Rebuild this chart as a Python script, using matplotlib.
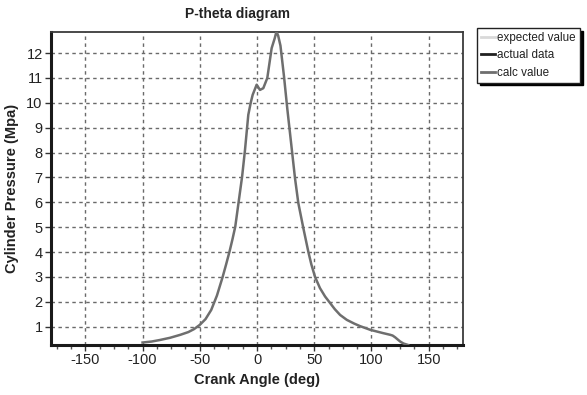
import matplotlib
matplotlib.use("Agg")
import matplotlib.pyplot as plt
import numpy as np

plt.rcParams['axes.unicode_minus'] = False
font = 'Liberation Sans'

crank_angle = [-100, -92, -85, -76, -67, -60, -55, -50, -45, -40, -35, -30, -27, -24, -21.5, -19, -16,
               -13, -10.5, -7.6, -5.5, -3.8, -0.3, 2.6, 5.5, 9.0, 12.8, 15.5, 17.0, 18.5, 20.5, 23.6,
               26.5, 30.0, 33.2, 36.1, 40.5, 44.9, 47.5, 50.7, 55, 59.5, 64, 68, 72.6, 78.5, 85,
               90, 99, 110, 116.4, 118.5, 120.7, 123, 125.1, 128, 132]
calc_value = [0.36, 0.40, 0.46, 0.55, 0.67, 0.78, 0.90, 1.07, 1.30, 1.67, 2.25, 3.0, 3.5, 4.02, 4.5, 5.02,
              6.03, 7.04, 8.1, 9.52, 10.0, 10.32, 10.73, 10.52, 10.59, 11.0, 12.2, 12.6, 12.87, 12.7,
              12.3, 11.06, 9.75, 8.3, 6.97, 5.97, 4.96, 4.0, 3.5, 3.0, 2.55, 2.21, 1.94, 1.70, 1.47,
              1.27, 1.12, 1.02, 0.87, 0.74, 0.67, 0.64, 0.57, 0.48, 0.40, 0.32, 0.26]

legend_labels = ['expected value', 'actual data', 'calc value']
legend_colors = ['#d9d9d9', '#202020', '#6e6e6e']

x_ticks = [-150, -100, -50, 0, 50, 100, 150]
y_ticks = list(range(1, 13))

fig = plt.figure(figsize=(5.87, 3.95), dpi=100)
ax = fig.add_axes([51/587, 1-345/395, (463-51)/587, (345-32)/395])

ax.plot(crank_angle, calc_value, color=legend_colors[2], lw=1.8, zorder=3)

ax.set_xlim(-180, 180)
ax.set_ylim(0.26, 12.85)
ax.set_xticks(x_ticks)
ax.set_xticks(np.arange(-175, 180, 12.5), minor=True)
ax.set_yticks(y_ticks)
ax.grid(True, which='major', ls=(0, (2.5, 2.5)), color='#6a6a6a', lw=1.0)
ax.tick_params(axis='both', which='major', direction='out', length=4, width=1, colors='#333333',
               labelsize=10.5, labelcolor='#222222', pad=2)
ax.tick_params(axis='x', which='minor', direction='out', length=3, width=1, colors='#555555')
for lbl in ax.get_xticklabels() + ax.get_yticklabels():
    lbl.set_family(font)

for s in ['left', 'bottom']:
    ax.spines[s].set_linewidth(2.2)
    ax.spines[s].set_color('#1a1a1a')
for s in ['top', 'right']:
    ax.spines[s].set_linewidth(1.3)
    ax.spines[s].set_color('#3a3a3a')

ax.set_xlabel('Crank Angle (deg)', fontsize=10.5, fontweight='bold', family=font,
              color='#222222', labelpad=4)
ax.set_ylabel('Cylinder Pressure (Mpa)', fontsize=10.5, fontweight='bold', family=font,
              color='#222222', labelpad=5)
ax.text(0.453, 1.035, 'P-theta diagram', transform=ax.transAxes, ha='center', va='bottom',
        fontsize=10, fontweight='bold', family=font, color='#222222')

handles = [plt.Line2D([], [], color=c, lw=2) for c in legend_colors]
leg = fig.legend(handles, legend_labels, loc='upper left', bbox_to_anchor=(477/587, 1-28/395),
                 frameon=True, fancybox=False, shadow={'color': 'black', 'alpha': 1},
                 handlelength=1.2, handletextpad=0.2, borderpad=0.35, labelspacing=0.45,
                 prop={'family': font, 'size': 8.4}, edgecolor='#222222', borderaxespad=0)
leg.get_frame().set_linewidth(1.0)
for t in leg.get_texts():
    t.set_color('#222222')

fig.savefig('out.png', dpi=100)
